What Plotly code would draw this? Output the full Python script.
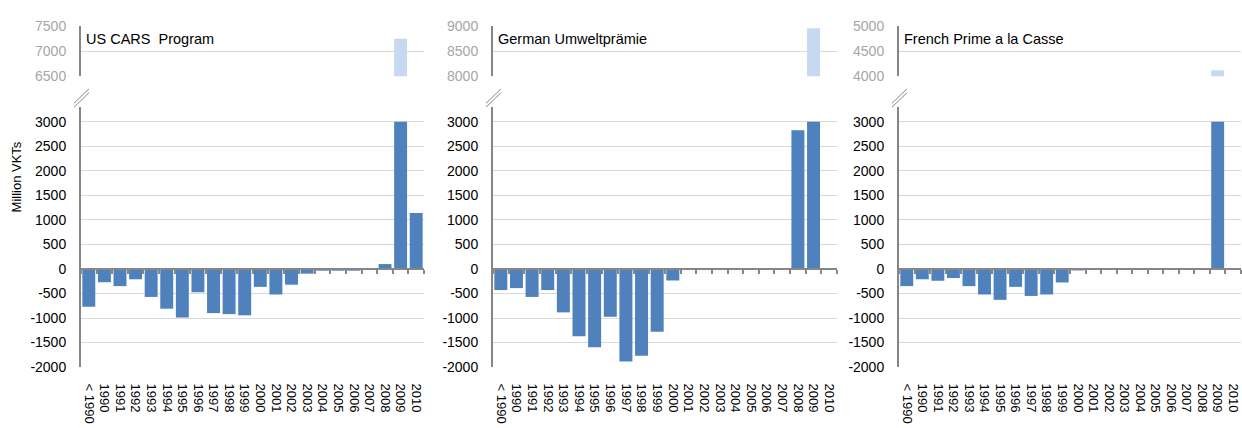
"""Scrappage schemes: change in vehicle km travelled by vintage, three programs.

Broken y-axis per panel: a short upper strip for the 2009 peak and the
main -2000..3000 range below it.
"""

import plotly.graph_objects as go

CATEGORIES = ["< 1990"] + [str(y) for y in range(1990, 2011)]

US_CARS = [-770, -270, -350, -210, -570, -810, -990, -475, -900, -920, -945,
           -365, -520, -320, -95, -35, -35, -35, 0, 100, 7250, 1140]
GERMAN = [-430, -390, -570, -430, -885, -1370, -1595, -975, -1885, -1770, -1280,
          -235, 0, 0, 0, 0, 0, 0, 0, 2830, 8960, 0]
FRENCH = [-350, -210, -240, -185, -350, -520, -630, -365, -550, -520, -275,
          -30, 0, 0, 0, 0, 0, 0, 0, 0, 4120, 0]

PANEL_TITLES = ["US CARS\u00a0\u00a0Program", "German Umweltprämie", "French Prime a la Casse"]
PANEL_VALUES = [US_CARS, GERMAN, FRENCH]
UPPER_RANGES = [(6500, 7500), (8000, 9000), (4000, 5000)]
LOWER_TICKS = list(range(-2000, 3001, 500))
BREAK_AT = 3000

DARK = "#4F81BD"
LIGHT = "#C6D9F1"
AXIS = "#868686"
GRID = "#D9D9D9"
FONT = "Liberation Sans, Arial, sans-serif"

W, H = 1242, 428


def fx(px):
    return px / W


def fy(px):
    return 1 - px / H


# panel pixel extents (left axis line, right edge)
PANEL_X = [(81, 424), (493, 837), (899, 1241)]
LOW_DOM = [fy(373), fy(103)]
TOP_DOM = [fy(71), fy(19)]
LOW_RANGE = [-2000, 3300]
ZERO_POS = LOW_DOM[0] + (LOW_DOM[1] - LOW_DOM[0]) * (0 - LOW_RANGE[0]) / (LOW_RANGE[1] - LOW_RANGE[0])

fig = go.Figure()
layout = {}
shapes = []
annotations = []

for i, (title, vals, (lo, hi)) in enumerate(zip(PANEL_TITLES, PANEL_VALUES, UPPER_RANGES)):
    xb, xt = 2 * i + 1, 2 * i + 2
    xb_id = "x" if xb == 1 else f"x{xb}"
    yb_id = "y" if xb == 1 else f"y{xb}"
    xt_id, yt_id = f"x{xt}", f"y{xt}"
    dom = [fx(PANEL_X[i][0]), fx(PANEL_X[i][1])]
    top_ticks = [lo, (lo + hi) // 2, hi]

    fig.add_trace(go.Bar(
        x=CATEGORIES, y=[min(v, BREAK_AT) for v in vals],
        marker=dict(color=DARK, line=dict(width=0)),
        xaxis=xb_id, yaxis=yb_id, showlegend=False,
    ))
    fig.add_trace(go.Bar(
        x=CATEGORIES, y=vals,
        marker=dict(color=LIGHT, line=dict(width=0)),
        xaxis=xt_id, yaxis=yt_id, showlegend=False,
    ))

    layout[f"xaxis{'' if xb == 1 else xb}"] = dict(
        domain=dom, anchor="free", position=ZERO_POS, type="category",
        categoryorder="array", categoryarray=CATEGORIES,
        tickmode="array", tickvals=CATEGORIES, ticktext=CATEGORIES,
        tickangle=90, ticks="outside", tickson="boundaries", ticklen=4,
        tickcolor=AXIS, tickwidth=1.5, showline=True, linecolor=AXIS, linewidth=2,
        showgrid=False, zeroline=False, ticklabelstandoff=111,
        tickfont=dict(size=13, color="#000000"),
    )
    layout[f"yaxis{'' if xb == 1 else xb}"] = dict(
        domain=LOW_DOM, anchor=xb_id, range=LOW_RANGE,
        tickmode="array", tickvals=LOWER_TICKS, ticktext=[str(t) for t in LOWER_TICKS],
        showline=True, linecolor=AXIS, linewidth=2, gridcolor=GRID, gridwidth=1,
        zeroline=False, ticks="", ticklabelstandoff=10,
        tickfont=dict(size=14, color="#000000"),
    )
    layout[f"xaxis{xt}"] = dict(
        domain=dom, anchor=yt_id, matches=xb_id, type="category",
        showticklabels=False, ticks="", showline=False, showgrid=False, zeroline=False,
    )
    layout[f"yaxis{xt}"] = dict(
        domain=TOP_DOM, anchor=xt_id, range=[lo, hi],
        tickmode="array", tickvals=top_ticks, ticktext=[str(t) for t in top_ticks],
        showline=True, linecolor=AXIS, linewidth=2, gridcolor=GRID, gridwidth=1,
        zeroline=False, ticks="", ticklabelstandoff=10,
        tickfont=dict(size=14, color="#A6A6A6"),
    )

    annotations.append(dict(
        text=title, x=fx(PANEL_X[i][0] + 3), y=fy(32), xref="paper", yref="paper",
        xanchor="left", yanchor="middle", showarrow=False,
        font=dict(size=14.5, color="#000000", family=FONT),
    ))

    # axis-break marks
    ax = PANEL_X[i][0]
    for off in (0, 4):
        shapes.append(dict(
            type="line", xref="paper", yref="paper",
            x0=fx(ax - 7), y0=fy(103 - off), x1=fx(ax + 8), y1=fy(88 - off),
            line=dict(color=AXIS, width=1),
        ))

annotations.append(dict(
    text="Million VKTs", x=fx(16), y=fy(176), xref="paper", yref="paper",
    textangle=-90, showarrow=False, xanchor="center", yanchor="middle",
    font=dict(size=13, color="#000000", family=FONT),
))

fig.update_layout(
    **layout,
    width=W, height=H,
    margin=dict(l=0, r=0, t=0, b=0),
    paper_bgcolor="white", plot_bgcolor="white",
    bargap=0.17, barmode="overlay",
    font=dict(family=FONT, color="#000000"),
    shapes=shapes, annotations=annotations,
)

# pin the graph to the page corner so nothing else takes up room
PIN = (
    "var d=document.getElementById('{plot_id}');"
    "[document.documentElement, document.body].forEach(function(e){"
    "e.style.margin='0';e.style.padding='0';e.style.overflow='hidden';});"
    "d.style.position='fixed';d.style.left='0px';d.style.top='0px';"
)

fig.write_html("out.html", config={"displayModeBar": False}, post_script=PIN)
